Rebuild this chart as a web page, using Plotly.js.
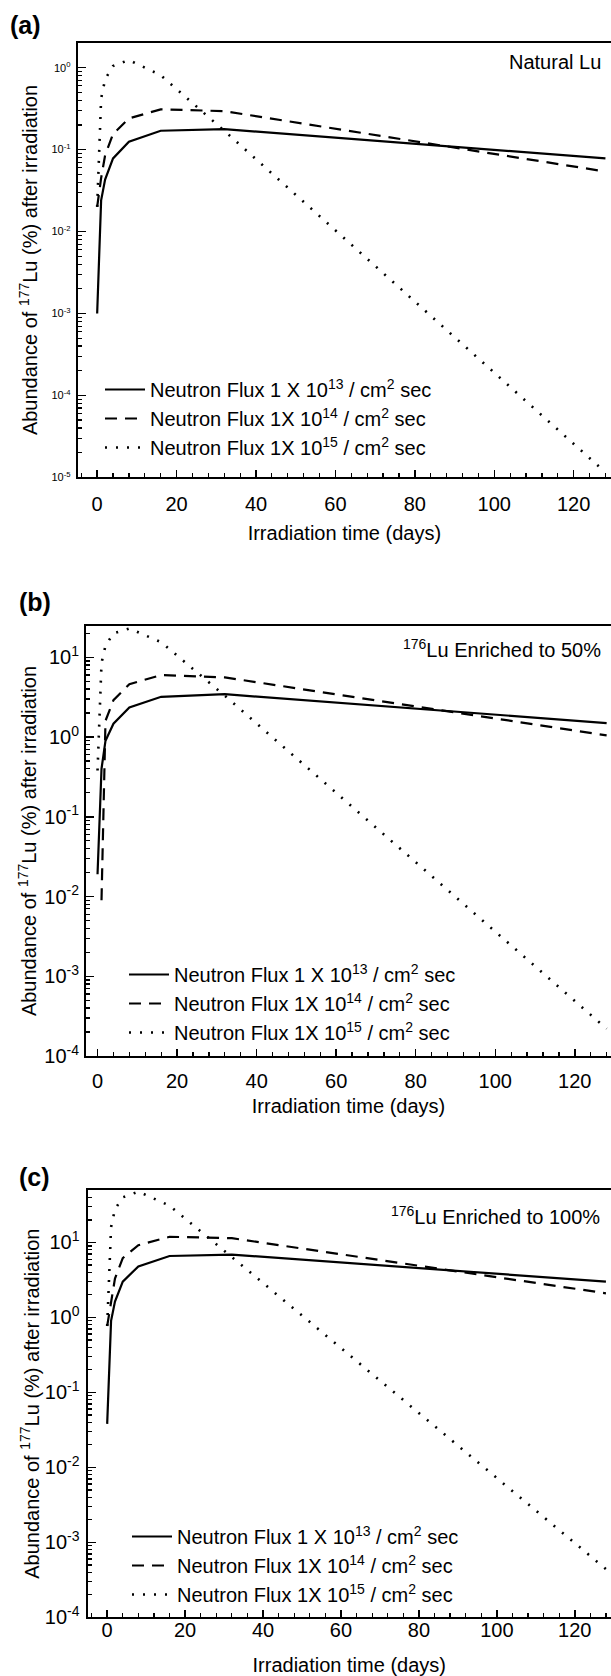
<!DOCTYPE html>
<html>
<head>
<meta charset="utf-8">
<script src="https://cdn.plot.ly/plotly-3.0.1.min.js"></script>
<style>html,body{margin:0;padding:0;background:#fff;}</style>
</head>
<body>
<div id="chart" style="width:611px;height:1676px;"></div>
<script>
// ---------------- data ----------------
const days = [0, 1, 2, 4, 8, 16, 32, 128];
const daysFrom1 = [1, 2, 4, 8, 16, 32, 128];

// (a) Natural Lu
const natFlux13 = [0.001, 0.024, 0.043, 0.078, 0.125, 0.17, 0.178, 0.078];
const natFlux14 = [0.02, 0.045, 0.085, 0.155, 0.24, 0.31, 0.295, 0.054];
const natFlux15 = [0.02, 0.42, 0.72, 1.05, 1.24, 0.81, 0.17, 1.15e-5];

// (b) 176Lu enriched to 50%
const e50Flux13 = [0.019, 0.4, 0.9, 1.47, 2.35, 3.2, 3.45, 1.5];
const e50Flux14 = [0.009, 1.6, 2.9, 4.6, 6.0, 5.6, 1.05];   // on daysFrom1
const e50Flux15 = [0.38, 8.5, 14, 20, 23, 15.5, 3.3, 2.2e-4];

// (c) 176Lu enriched to 100%
const e100Flux13 = [0.038, 0.9, 1.63, 3.0, 4.8, 6.6, 6.9, 3.0];
const e100Flux14 = [0.77, 1.72, 3.3, 6.2, 9.2, 11.9, 11.4, 2.1];
const e100Flux15 = [0.77, 16, 27.7, 40, 47.7, 31, 6.4, 4.4e-4];

const seriesNames = [
  'Neutron Flux 1 X 10<sup>13</sup> / cm<sup>2</sup> sec',
  'Neutron Flux 1X 10<sup>14</sup> / cm<sup>2</sup> sec',
  'Neutron Flux 1X 10<sup>15</sup> / cm<sup>2</sup> sec'
];
const panelLabels = ['(a)', '(b)', '(c)'];
const panelNotes = ['Natural Lu', '<sup>176</sup>Lu Enriched to 50%', '<sup>176</sup>Lu Enriched to 100%'];
const xTickVals = [0, 20, 40, 60, 80, 100, 120];
const xTitle = 'Irradiation time (days)';
const yTitle = 'Abundance of <sup>177</sup>Lu (%) after irradiation';

// ---------------- layout helpers ----------------
const W = 611, H = 1676;
const FONT = 'Arial, "Liberation Sans", Helvetica, sans-serif';
const fx = p => p / W;
const fy = p => 1 - p / H;

function decadeTicks(lo, hi) {
  const vals = [], text = [];
  for (let e = lo; e <= hi; e++) { vals.push(Math.pow(10, e)); text.push('10<sup>' + e + '</sup>'); }
  return {vals, text};
}
function minorLog(lo, hiLog) {
  const v = [];
  for (let e = lo; e <= Math.ceil(hiLog); e++) {
    for (let m = 2; m <= 9; m++) {
      const val = m * Math.pow(10, e);
      if (Math.log10(val) < hiLog) v.push(val);
    }
  }
  return v;
}

const panels = [
  {left: 77.7, top: 42.7, bottom: 477.3, xr: [-4.9, 129.4], yr: [-5, 0.305], dlo: -5, dhi: 0,
   ytf: 11, yls: 3, xls: 8, ystand: 8, xstand: 12,
   label: {x: 8, y: 25}, note: {x: 603, y: 62}, legend: {x: 100, y: 370}},
  {left: 86, top: 626, bottom: 1056, xr: [-2.9, 129.1], yr: [-4, 1.393], dlo: -4, dhi: 1,
   ytf: 20, yls: 1, xls: 6, ystand: 2, xstand: 8,
   label: {x: 17, y: 602}, note: {x: 603, y: 648}, legend: {x: 124, y: 955}},
  {left: 87.5, top: 1190, bottom: 1617.3, xr: [-5.05, 129.3], yr: [-4, 1.70], dlo: -4, dhi: 1,
   ytf: 20, yls: 2, xls: -6, ystand: 0, xstand: 20,
   label: {x: 17, y: 1177}, note: {x: 602, y: 1215}, legend: {x: 127, y: 1517}}
];

const dataSets = [
  [[days, natFlux13], [days, natFlux14], [days, natFlux15]],
  [[days, e50Flux13], [daysFrom1, e50Flux14], [days, e50Flux15]],
  [[days, e100Flux13], [days, e100Flux14], [days, e100Flux15]]
];
const lineStyles = [
  {color: '#000', width: 2.2, dash: 'solid'},
  {color: '#000', width: 2.2, dash: '12px,8px'},
  {color: '#000', width: 2.6, dash: '2px,9px'}
];

const traces = [];
const layout = {
  width: W, height: H,
  margin: {l: 0, r: 0, t: 0, b: 0},
  paper_bgcolor: '#fff', plot_bgcolor: '#fff',
  font: {family: FONT, color: '#000', size: 20},
  showlegend: true,
  annotations: []
};

panels.forEach((p, i) => {
  const n = i === 0 ? '' : String(i + 1);
  const xa = 'xaxis' + n, ya = 'yaxis' + n;
  const xid = 'x' + n, yid = 'y' + n;
  const lg = 'legend' + n;
  dataSets[i].forEach((d, k) => {
    traces.push({
      type: 'scatter', mode: 'lines',
      x: d[0], y: d[1],
      xaxis: xid, yaxis: yid,
      name: seriesNames[k],
      legend: lg,
      line: lineStyles[k],
      hoverinfo: 'skip'
    });
  });
  const dt = decadeTicks(p.dlo, p.dhi);
  layout[xa] = {
    domain: [fx(p.left), 1], anchor: yid,
    range: p.xr, tickmode: 'array', tickvals: xTickVals,
    ticks: 'inside', ticklen: 7, tickwidth: 1.5, tickcolor: '#000',
    minor: {tick0: 0, dtick: 4, ticks: 'inside', ticklen: 4, tickwidth: 1.2, tickcolor: '#000'},
    showline: true, linewidth: 2, linecolor: '#000', mirror: true,
    showgrid: false, zeroline: false,
    tickfont: {size: 20, family: FONT, color: '#000'},
    ticklabelstandoff: p.xls,
    title: {text: xTitle, font: {size: 20, family: FONT, color: '#000'}, standoff: p.xstand}
  };
  layout[ya] = {
    type: 'log', domain: [fy(p.bottom), fy(p.top)], anchor: xid,
    range: p.yr, tickmode: 'array', tickvals: dt.vals, ticktext: dt.text,
    ticks: 'inside', ticklen: 8, tickwidth: 1.5, tickcolor: '#000',
    minor: {tickmode: 'array', tickvals: minorLog(p.dlo, p.yr[1]), ticks: 'inside', ticklen: 4, tickwidth: 1.2, tickcolor: '#000'},
    showline: true, linewidth: 2, linecolor: '#000', mirror: false,
    showgrid: false, zeroline: false,
    tickfont: {size: p.ytf, family: FONT, color: '#000'},
    ticklabelstandoff: p.yls,
    title: {text: yTitle, font: {size: 20, family: FONT, color: '#000'}, standoff: p.ystand}
  };
  layout[lg] = {
    x: fx(p.legend.x), y: fy(p.legend.y), xanchor: 'left', yanchor: 'top',
    xref: 'paper', yref: 'paper',
    bgcolor: 'rgba(0,0,0,0)', borderwidth: 0,
    font: {size: 20, family: FONT, color: '#000'},
    tracegroupgap: 0, itemwidth: 40
  };
  layout.annotations.push({
    xref: 'paper', yref: 'paper', x: fx(p.label.x), y: fy(p.label.y),
    xanchor: 'left', yanchor: 'middle', showarrow: false,
    text: '<b>' + panelLabels[i] + '</b>', font: {size: 25, family: FONT, color: '#000'}
  });
  layout.annotations.push({
    xref: 'paper', yref: 'paper', x: fx(p.note.x), y: fy(p.note.y),
    xanchor: 'right', yanchor: 'middle', showarrow: false,
    text: panelNotes[i], font: {size: 20, family: FONT, color: '#000'}
  });
});

Plotly.newPlot('chart', traces, layout, {displayModeBar: false, staticPlot: true});
</script>
</body>
</html>
